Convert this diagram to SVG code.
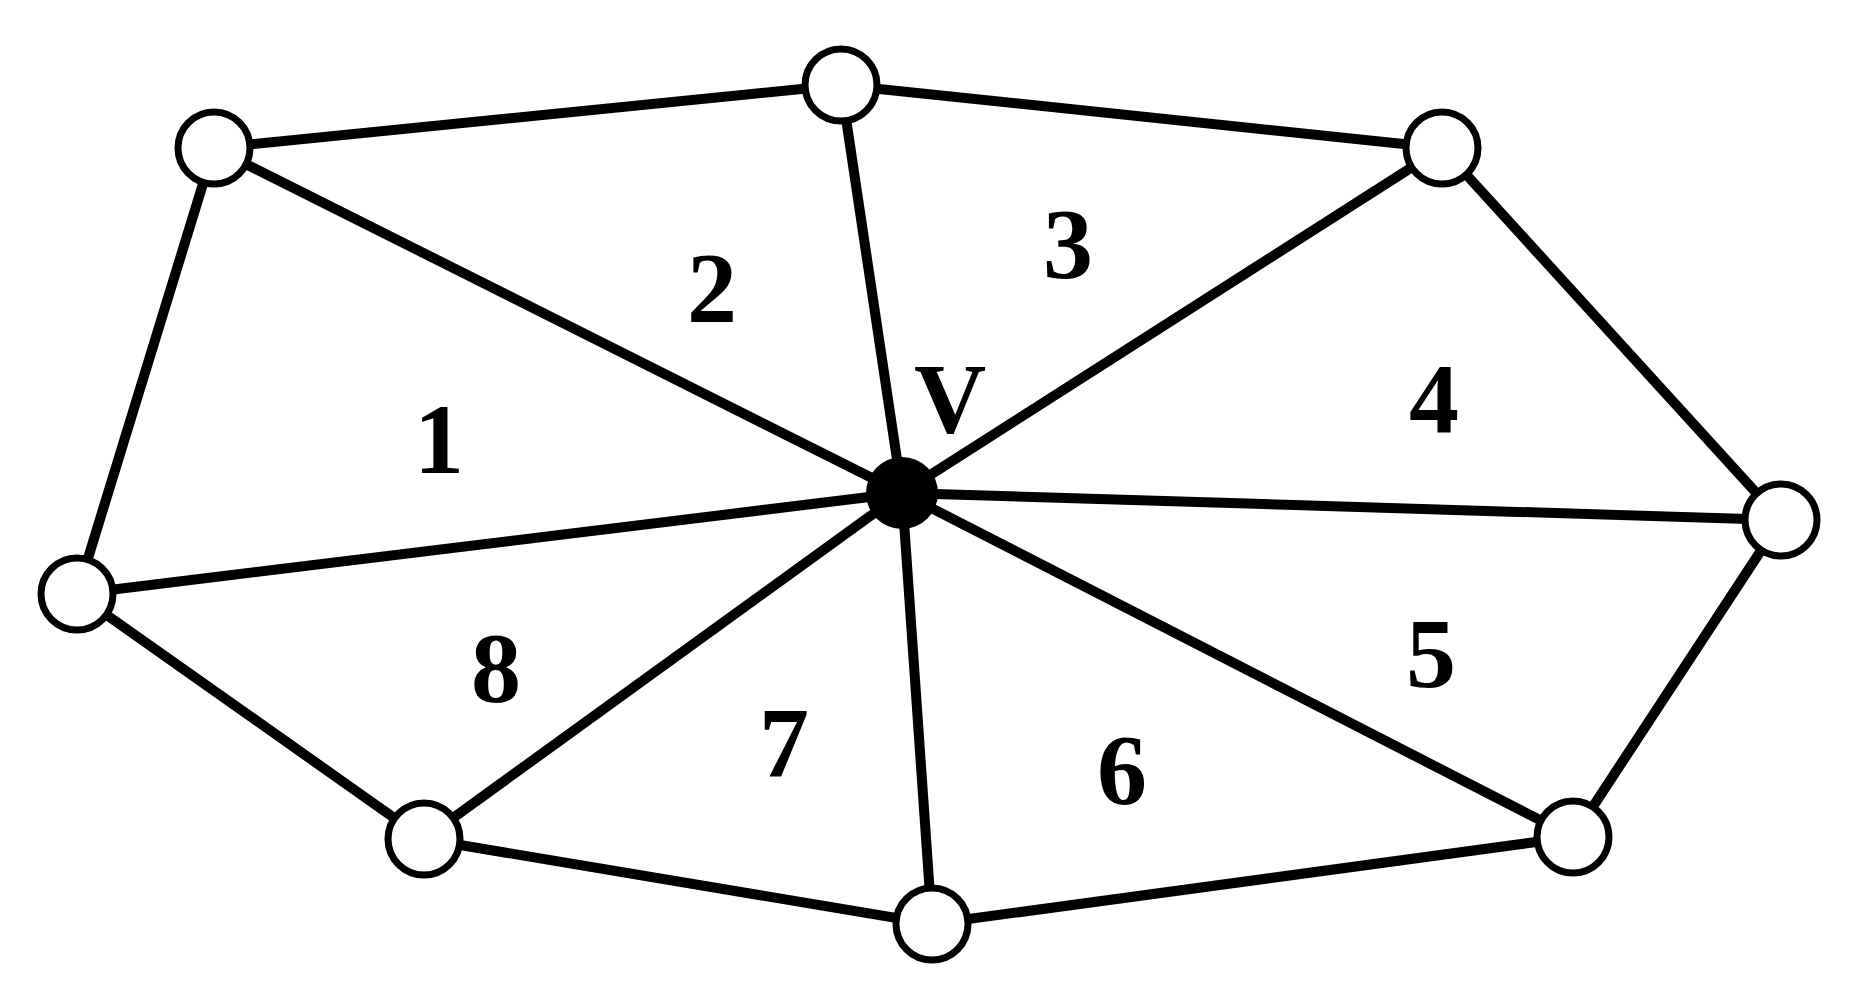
<svg xmlns="http://www.w3.org/2000/svg" width="1852" height="1007" viewBox="0 0 1852 1007">
<style>
.e{stroke:#000;stroke-width:10;fill:none}
.n{fill:#fff;stroke:#000;stroke-width:7}
.t{font-family:"Liberation Serif",serif;font-weight:bold;font-size:100px;text-anchor:middle;dominant-baseline:central}
</style>
<rect width="1852" height="1007" fill="#fff"/>
<g id="connectors" class="e">
<polygon points="214,148 841,85 1442,148 1781,520 1573,837 932,924 424,839 77,594"/>
<line x1="902" y1="493" x2="214" y2="148"/>
<line x1="902" y1="493" x2="841" y2="85"/>
<line x1="902" y1="493" x2="1442" y2="148"/>
<line x1="902" y1="493" x2="1781" y2="520"/>
<line x1="902" y1="493" x2="1573" y2="837"/>
<line x1="902" y1="493" x2="932" y2="924"/>
<line x1="902" y1="493" x2="424" y2="839"/>
<line x1="902" y1="493" x2="77" y2="594"/>
</g>
<g id="nA"><circle class="n" cx="214" cy="148" r="36"/></g>
<g id="nB"><circle class="n" cx="841" cy="85" r="36"/></g>
<g id="nC"><circle class="n" cx="1442" cy="148" r="36"/></g>
<g id="nD"><circle class="n" cx="1781" cy="520" r="36"/></g>
<g id="nE"><circle class="n" cx="1573" cy="837" r="36"/></g>
<g id="nF"><circle class="n" cx="932" cy="924" r="36"/></g>
<g id="nG"><circle class="n" cx="424" cy="839" r="36"/></g>
<g id="nH"><circle class="n" cx="77" cy="594" r="36"/></g>
<g id="nV"><circle cx="902" cy="493" r="36" fill="#000"/><text class="t" x="950" y="398">V</text></g>
<g id="labels">
<text class="t" x="439" y="439">1</text>
<text class="t" x="712" y="287">2</text>
<text class="t" x="1068" y="243">3</text>
<text class="t" x="1434" y="398">4</text>
<text class="t" x="1431" y="653">5</text>
<text class="t" x="1122" y="769">6</text>
<text class="t" x="784" y="742">7</text>
<text class="t" x="496" y="667">8</text>
</g>
</svg>
